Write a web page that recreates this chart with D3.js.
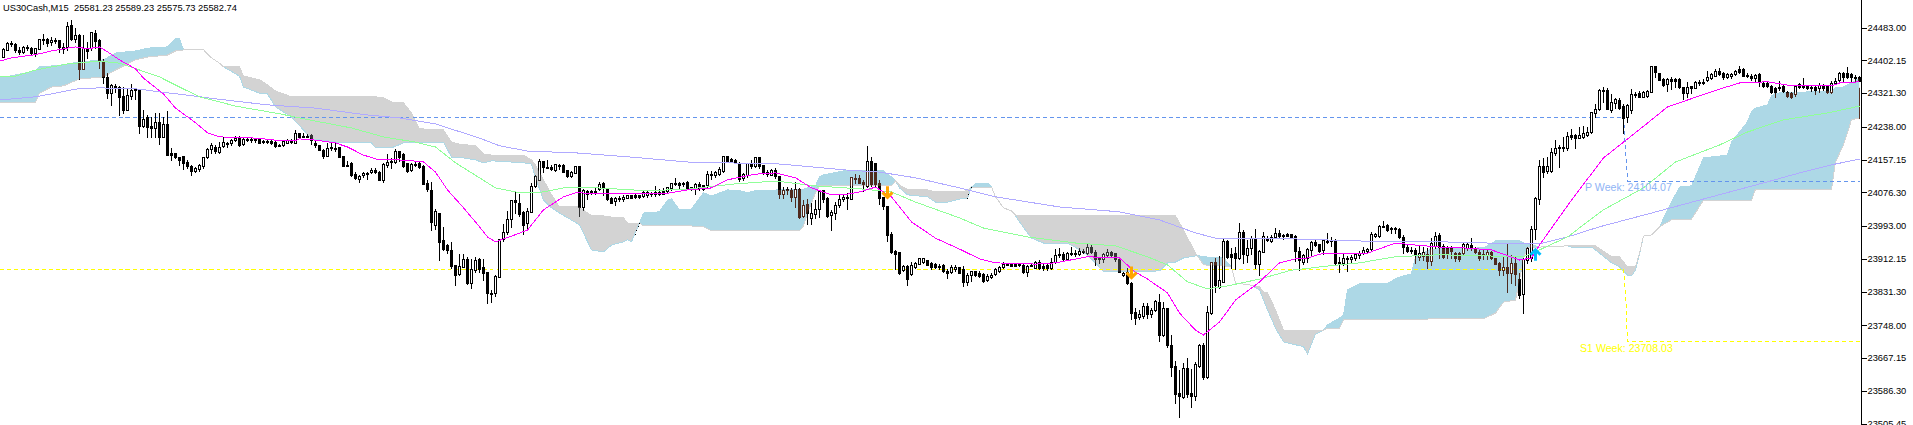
<!DOCTYPE html>
<html><head><meta charset="utf-8">
<script src="https://cdnjs.cloudflare.com/ajax/libs/d3/7.8.5/d3.min.js"></script>
<style>html,body{margin:0;padding:0;background:#fff;overflow:hidden}svg{display:block}text{font-family:"Liberation Sans",Arial,sans-serif}</style>
</head><body><svg id="c" width="1913" height="425"></svg>
<script>
const symbolName="US30Cash,M15";
const quote="25581.23 25589.23 25575.73 25582.74";
const priceTicks=[24483,24402.15,24321.3,24238,24157.15,24076.3,23993,23912.15,23831.3,23748,23667.15,23586.3,23505.45];
const opens=[24410,24428,24445,24442,24428,24423,24435,24432,24420,24430,
24452,24455,24447,24452,24452,24435,24435,24489,24455,24465,
24381,24430,24432,24470,24452,24398,24361,24321,24339,24336,
24314,24279,24314,24331,24329,24240,24262,24240,24235,24250,
24213,24245,24174,24174,24164,24166,24151,24141,24129,24134,
24141,24164,24183,24188,24176,24190,24198,24198,24205,24210,
24195,24208,24208,24208,24208,24203,24203,24203,24200,24193,
24193,24198,24203,24198,24223,24215,24215,24218,24198,24193,
24181,24166,24188,24186,24188,24166,24144,24149,24121,24109,
24119,24124,24126,24131,24126,24107,24144,24154,24151,24178,
24171,24149,24131,24146,24149,24141,24099,24082,23996,24025,
23959,23946,23934,23897,23875,23892,23912,23852,23884,23912,
23892,23880,23828,23828,23867,23961,23978,24010,24057,24050,
24028,24000,24028,24092,24107,24154,24139,24139,24131,24144,
24144,24131,24117,24124,24141,24040,24080,24080,24080,24084,
24099,24084,24062,24055,24062,24060,24062,24070,24070,24070,
24067,24070,24075,24072,24077,24080,24080,24087,24099,24099,
24099,24102,24089,24084,24097,24094,24094,24121,24119,24121,
24129,24166,24159,24156,24149,24112,24119,24146,24141,24164,
24144,24126,24119,24131,24117,24072,24084,24082,24065,24084,
24018,24047,24013,24023,24035,24082,24062,24020,24025,24045,
24060,24065,24060,24112,24112,24102,24092,24154,24149,24099,
24065,24042,23973,23931,23929,23884,23894,23875,23892,23899,
23904,23909,23902,23899,23894,23897,23882,23880,23887,23892,
23887,23855,23872,23882,23877,23875,23860,23867,23875,23882,
23892,23899,23899,23899,23899,23897,23880,23897,23889,23904,
23894,23897,23889,23904,23924,23924,23912,23926,23926,23924,
23931,23926,23941,23929,23914,23912,23922,23929,23926,23912,
23872,23880,23852,23781,23768,23771,23795,23776,23786,23805,
23724,23791,23699,23647,23581,23571,23643,23581,23573,23647,
23699,23620,23778,23904,23842,23855,23956,23924,23926,23914,
23978,23922,23939,23961,23899,23929,23963,23956,23966,23976,
23971,23973,23973,23968,23931,23904,23914,23934,23954,23949,
23934,23956,23959,23959,23904,23902,23914,23912,23914,23922,
23926,23931,23936,23968,23968,23993,23996,23988,23988,23986,
23966,23941,23934,23934,23917,23919,23924,23907,23944,23971,
23944,23941,23941,23926,23926,23926,23939,23946,23939,23929,
23924,23922,23929,23914,23902,23884,23892,23877,23902,23862,
23825,23909,23914,23986,24060,24141,24129,24129,24173,24188,
24188,24186,24218,24218,24210,24213,24218,24225,24272,24282,
24329,24329,24279,24297,24304,24289,24262,24279,24319,24321,
24312,24314,24324,24388,24371,24356,24344,24356,24356,24356,
24336,24321,24339,24334,24349,24349,24354,24358,24363,24376,
24371,24361,24363,24368,24381,24381,24366,24363,24358,24368,
24346,24346,24339,24334,24336,24339,24324,24321,24319,24344,
24339,24339,24336,24336,24334,24341,24339,24324,24346,24354,
24371,24371,24368,24361,24361];
const highs=[24432,24447,24450,24445,24435,24437,24440,24435,24432,24455,
24467,24457,24460,24457,24452,24445,24497,24502,24482,24467,
24465,24447,24472,24477,24455,24405,24371,24344,24344,24339,
24336,24334,24344,24334,24331,24279,24267,24262,24272,24272,
24262,24277,24186,24174,24164,24166,24156,24144,24139,24146,
24164,24186,24198,24193,24200,24213,24200,24208,24215,24215,
24213,24213,24210,24208,24208,24205,24205,24208,24203,24195,
24205,24208,24208,24230,24223,24223,24220,24220,24203,24193,
24183,24198,24198,24198,24188,24166,24154,24151,24126,24119,
24126,24126,24136,24136,24129,24149,24171,24161,24183,24178,
24174,24149,24149,24151,24154,24144,24107,24102,24035,24025,
23991,23949,23954,23897,23924,23924,23917,23912,23917,23914,
23912,23880,23835,23872,23961,23998,24030,24057,24080,24072,
24030,24038,24099,24119,24159,24154,24156,24144,24146,24146,
24146,24131,24129,24141,24141,24084,24082,24082,24087,24102,
24102,24087,24065,24065,24067,24070,24070,24070,24072,24070,
24080,24080,24077,24092,24084,24087,24089,24099,24112,24102,
24102,24104,24089,24099,24102,24094,24129,24129,24129,24139,
24166,24166,24161,24159,24151,24124,24149,24156,24164,24164,
24144,24131,24134,24136,24117,24089,24089,24087,24102,24087,
24057,24060,24050,24057,24082,24082,24065,24033,24052,24070,
24070,24075,24114,24121,24119,24107,24191,24164,24149,24107,
24065,24042,23978,23934,23929,23897,23897,23904,23904,23914,
23914,23909,23904,23902,23899,23899,23887,23897,23897,23892,
23894,23877,23882,23882,23882,23877,23875,23877,23889,23894,
23904,23899,23899,23899,23902,23899,23897,23902,23907,23909,
23902,23902,23914,23936,23939,23929,23929,23941,23934,23939,
23936,23949,23946,23934,23917,23926,23936,23931,23926,23914,
23880,23889,23855,23791,23786,23803,23803,23791,23810,23825,
23805,23791,23724,23660,23638,23655,23667,23640,23657,23702,
23704,23795,23904,23914,23919,23961,23959,23939,23941,24001,
23983,23959,23968,23986,23934,23978,23968,23971,23988,23983,
23973,23976,23973,23971,23941,23924,23939,23956,23961,23949,
23961,23976,23966,23961,23917,23924,23919,23922,23926,23931,
23941,23939,23978,23976,23996,24006,23998,23991,23991,23988,
23971,23946,23941,23939,23946,23941,23939,23963,23978,23976,
23949,23944,23944,23929,23929,23951,23954,23963,23941,23934,
23934,23934,23931,23914,23904,23917,23949,23922,23917,23877,
23914,23941,23993,24065,24156,24161,24164,24186,24205,24193,
24213,24225,24232,24220,24237,24240,24237,24274,24294,24331,
24336,24334,24319,24309,24309,24294,24294,24331,24324,24326,
24326,24329,24388,24388,24371,24358,24358,24361,24358,24358,
24336,24349,24339,24351,24354,24356,24376,24371,24381,24383,
24373,24371,24371,24378,24388,24383,24371,24368,24368,24371,
24349,24349,24341,24336,24351,24344,24326,24324,24341,24346,
24358,24341,24341,24339,24346,24344,24341,24351,24358,24373,
24373,24386,24371,24366,24363];
const lows=[24410,24428,24437,24423,24418,24420,24428,24415,24413,24430,
24442,24437,24440,24445,24423,24420,24428,24452,24447,24356,
24381,24408,24428,24432,24383,24346,24309,24292,24324,24267,
24272,24279,24307,24307,24223,24237,24213,24213,24213,24195,
24213,24168,24156,24161,24144,24134,24136,24119,24126,24129,
24136,24161,24173,24173,24173,24188,24188,24193,24203,24191,
24193,24203,24200,24200,24198,24198,24198,24195,24188,24191,
24191,24198,24198,24198,24213,24213,24213,24195,24188,24181,
24161,24166,24181,24178,24164,24141,24141,24117,24109,24102,
24114,24109,24124,24124,24107,24102,24139,24136,24149,24154,
24139,24126,24129,24141,24136,24097,24080,23983,23986,23909,
23934,23926,23889,23847,23872,23892,23850,23840,23880,23880,
23860,23803,23805,23820,23867,23956,23973,23991,24025,24018,
23973,23983,24028,24089,24107,24126,24136,24131,24129,24134,
24126,24114,24114,24124,24018,24033,24060,24072,24072,24082,
24070,24057,24050,24045,24055,24055,24062,24065,24062,24062,
24065,24065,24067,24067,24070,24072,24077,24082,24094,24084,
24092,24084,24082,24072,24082,24082,24089,24109,24114,24119,
24126,24151,24151,24149,24104,24107,24114,24136,24139,24136,
24121,24117,24119,24112,24062,24062,24072,24055,24040,24013,
24015,23998,23998,24013,24015,24052,24015,23983,24010,24040,
24055,24035,24060,24099,24099,24080,24089,24092,24089,24047,
24035,23956,23926,23887,23875,23882,23847,23872,23889,23899,
23902,23897,23887,23889,23887,23880,23865,23877,23882,23877,
23845,23847,23857,23870,23867,23855,23857,23865,23872,23880,
23889,23897,23894,23894,23894,23877,23870,23894,23889,23887,
23884,23884,23887,23902,23917,23909,23909,23922,23919,23922,
23926,23924,23926,23897,23902,23904,23919,23919,23907,23880,
23870,23850,23763,23751,23763,23766,23766,23768,23783,23709,
23722,23695,23623,23556,23522,23569,23571,23546,23564,23645,
23615,23618,23776,23830,23840,23855,23914,23889,23887,23912,
23902,23904,23924,23889,23872,23929,23956,23954,23963,23966,
23961,23968,23966,23907,23884,23899,23904,23919,23944,23929,
23924,23951,23944,23897,23880,23897,23882,23904,23909,23914,
23924,23926,23934,23966,23966,23991,23981,23976,23976,23963,
23926,23929,23926,23902,23909,23909,23889,23897,23939,23914,
23914,23914,23914,23907,23907,23924,23934,23934,23926,23909,
23912,23912,23912,23899,23872,23872,23830,23852,23847,23815,
23778,23902,23907,23961,24047,24114,24124,24126,24168,24139,
24178,24181,24208,24186,24210,24210,24215,24223,24262,24279,
24299,24282,24274,24284,24282,24223,24250,24272,24312,24312,
24312,24312,24324,24361,24354,24339,24326,24331,24336,24334,
24307,24312,24321,24334,24341,24344,24351,24356,24363,24366,
24356,24358,24358,24366,24371,24363,24361,24354,24349,24339,
24336,24336,24321,24312,24329,24324,24312,24309,24314,24334,
24334,24331,24326,24319,24324,24329,24321,24321,24344,24349,
24349,24358,24349,24349,24351];
const closes=[24430,24445,24442,24428,24423,24435,24432,24420,24432,24455,
24455,24445,24452,24450,24435,24430,24487,24455,24465,24381,
24432,24425,24472,24450,24403,24361,24321,24341,24334,24312,
24279,24316,24329,24329,24240,24257,24237,24235,24250,24213,
24245,24168,24168,24164,24156,24149,24141,24129,24136,24144,
24164,24183,24193,24178,24188,24200,24195,24205,24210,24193,
24208,24205,24205,24205,24198,24200,24200,24198,24190,24190,
24203,24205,24200,24223,24213,24213,24213,24205,24193,24181,
24166,24186,24186,24183,24164,24141,24141,24119,24112,24117,
24124,24121,24131,24126,24107,24146,24151,24151,24178,24164,
24141,24129,24146,24144,24139,24097,24084,24003,24030,23954,
23936,23934,23894,23872,23894,23912,23852,23887,23909,23887,
23877,23828,23825,23870,23961,23978,24010,24057,24052,24023,
23996,24030,24092,24117,24154,24139,24136,24134,24146,24141,
24126,24117,24126,24141,24040,24082,24072,24077,24077,24097,
24087,24060,24050,24062,24060,24065,24070,24062,24065,24065,
24077,24077,24072,24077,24072,24072,24089,24099,24097,24094,
24097,24087,24084,24097,24087,24084,24121,24119,24126,24134,
24166,24154,24154,24149,24109,24121,24149,24141,24164,24141,
24126,24121,24131,24117,24072,24082,24082,24065,24084,24015,
24045,24025,24025,24035,24080,24060,24018,24028,24045,24060,
24065,24062,24114,24109,24099,24097,24154,24097,24097,24062,
24042,23971,23929,23924,23877,23894,23862,23897,23902,23914,
23914,23897,23892,23892,23892,23882,23877,23892,23892,23877,
23855,23872,23882,23872,23870,23857,23870,23872,23887,23892,
23899,23897,23894,23894,23897,23880,23894,23894,23904,23889,
23889,23889,23904,23922,23922,23912,23926,23924,23924,23931,
23929,23941,23929,23912,23912,23924,23929,23922,23912,23880,
23877,23852,23778,23766,23776,23795,23776,23786,23807,23724,
23791,23699,23645,23578,23573,23643,23578,23573,23652,23699,
23620,23781,23904,23847,23860,23956,23917,23917,23914,23978,
23924,23939,23963,23899,23931,23968,23959,23966,23976,23968,
23968,23968,23966,23931,23909,23922,23936,23954,23946,23931,
23959,23954,23956,23902,23899,23914,23912,23917,23924,23926,
23934,23936,23973,23973,23993,23991,23983,23986,23986,23966,
23941,23931,23931,23922,23926,23929,23907,23951,23968,23941,
23917,23924,23931,23914,23912,23949,23949,23939,23929,23914,
23922,23929,23914,23899,23884,23892,23877,23902,23875,23823,
23912,23939,23986,24062,24141,24126,24141,24176,24186,24186,
24186,24215,24213,24210,24218,24223,24225,24274,24282,24329,
24326,24282,24299,24307,24284,24260,24292,24319,24316,24312,
24324,24326,24388,24373,24354,24341,24356,24351,24351,24336,
24321,24336,24334,24349,24346,24346,24361,24368,24376,24368,
24361,24368,24368,24376,24373,24363,24363,24358,24366,24349,
24339,24339,24324,24324,24334,24326,24314,24312,24339,24336,
24336,24334,24334,24329,24341,24334,24324,24346,24351,24371,
24361,24361,24361,24358,24351];
const tailHigh=24334, tailLow=24257;

const cloudBars=[-1,8,9,12,15,19,25,28,33,36,41,43,44,45,50,52,54,55,59,60,64,66,68,72,75,77,85,92,93,95,97,100,102,104,110,112,114,118,120,122,130,132,133,135,137,139,144,147,150,152,155,156,157,158,159,160,164,166,167,169,172,175,177,181,184,186,188,199,200,201,203,204,205,210,220,222,223,224,226,231,233,236,240,241,242,243,246,247,248,250,252,253,254,257,260,266,270,273,275,289,291,293,295,298,299,300,305,307,308,312,314,315,316,318,320,325,326,328,330,331,334,335,336,339,343,346,349,352,353,357,370,373,375,378,379,380,381,384,391,392,397,398,402,404,406,407,408,409,410,412,414,417,419,422,425,431,432,436,437,438,441,442,443,457,458,460,462,464];
const spanA=[24358,24376,24386,24388,24391,24398,24403,24420,24425,24432,24435,24455,24455,24428,24428,24408,24395,24386,24363,24336,24321,24319,24287,24262,24230,24208,24198,24198,24186,24186,24186,24198,24198,24200,24200,24163,24163,24156,24149,24154,24149,24146,24112,24057,24038,24025,23996,23934,23929,23946,23954,23959,23954,23978,24000,24025,24028,24057,24060,24033,24035,24075,24067,24082,24080,24075,24080,24084,24084,24087,24092,24114,24119,24129,24129,24114,24104,24087,24070,24065,24052,24052,24062,24062,24089,24097,24099,24089,24065,24038,24030,24018,24003,23963,23951,23951,23929,23902,23880,23882,23902,23904,23914,23919,23919,23917,23914,23892,23852,23847,23835,23810,23786,23741,23707,23695,23677,23726,23736,23749,23766,23773,23835,23850,23850,23852,23867,23875,23917,23936,23939,23956,23956,23956,23956,23951,23949,23941,23944,23941,23941,23934,23902,23892,23872,23870,23884,23924,23968,23971,23991,24052,24089,24092,24161,24168,24200,24250,24275,24284,24292,24314,24321,24326,24334,24336,24346,24358];
const spanB=[24299,24299,24321,24336,24339,24356,24361,24378,24403,24410,24415,24425,24425,24428,24428,24408,24395,24386,24386,24363,24354,24341,24326,24312,24312,24312,24312,24312,24312,24309,24299,24297,24272,24233,24230,24200,24195,24191,24171,24168,24168,24156,24144,24107,24070,24040,24040,24018,24018,24015,24013,24000,24000,24000,24000,23993,23993,23993,23993,23993,23993,23991,23981,23981,23981,23981,23981,23981,23993,24025,24075,24092,24092,24092,24092,24092,24104,24094,24084,24082,24077,24077,24077,24082,24089,24087,24087,24089,24065,24038,24030,24020,24020,24020,24020,24018,24018,24018,24018,24018,24018,24018,23983,23926,23912,23897,23894,23892,23852,23847,23843,23830,23828,23786,23736,23736,23736,23736,23736,23741,23741,23761,23761,23761,23761,23761,23761,23761,23761,23764,23764,23778,23805,23810,23860,23914,23939,23941,23944,23944,23944,23944,23917,23917,23892,23892,23892,23926,23968,23971,23991,24008,24010,24010,24057,24057,24057,24057,24057,24084,24084,24084,24084,24084,24151,24193,24255,24260];
const crossBars=[[158,159],[241,242]];
const crossPrices=[[23971,24001],[24060,24090]];

const fastBars=[-1,2,8,12,16,18,20,22,24,26,29,33,35,40,43,48,51,54,63,68,73,74,78,83,86,90,94,99,102,105,108,111,115,119,121,123,127,131,135,140,143,153,165,171,177,181,188,193,198,202,207,210,214,218,222,227,233,239,244,248,258,263,271,279,283,286,291,294,298,300,304,308,313,314,319,323,326,330,337,341,348,353,359,365,372,379,382,384,392,400,405,411,416,421,429,434,441,447,457,459,464];
const fastMA=[24400,24408,24416,24425,24432,24435,24432,24432,24435,24423,24403,24381,24358,24319,24284,24248,24223,24213,24210,24205,24203,24208,24205,24198,24188,24168,24156,24156,24154,24151,24126,24082,24038,23991,23966,23954,23968,23983,24033,24065,24075,24072,24072,24082,24087,24107,24121,24124,24112,24087,24070,24070,24077,24089,24065,24003,23963,23936,23912,23902,23899,23902,23917,23914,23879,23862,23828,23778,23736,23724,23756,23810,23847,23855,23902,23912,23914,23926,23924,23926,23951,23946,23941,23939,23934,23909,23914,23946,24057,24161,24200,24247,24287,24304,24331,24346,24349,24339,24339,24346,24349];
const midBars=[-1,3,8,16,24,29,34,39,44,49,58,69,78,87,95,103,108,113,119,123,129,135,140,145,161,171,183,193,203,215,222,228,239,245,256,268,278,286,291,296,301,306,314,322,331,339,348,359,380,384,391,400,410,418,429,436,445,456,464];
const midMA=[24361,24363,24378,24393,24400,24395,24378,24361,24336,24312,24289,24270,24252,24235,24213,24200,24188,24149,24112,24087,24075,24077,24087,24089,24080,24084,24097,24104,24092,24084,24077,24052,24013,23988,23966,23951,23944,23917,23897,23855,23838,23845,23862,23884,23894,23902,23917,23922,23917,23934,23966,24033,24087,24151,24193,24225,24255,24272,24289];
const slowBars=[-1,8,13,18,24,34,39,46,53,66,78,91,99,108,119,124,131,144,157,171,194,211,219,228,239,248,264,279,289,298,303,323,339,359,371,384,391,399,412,424,441,449,457,464];
const slowMA=[24304,24312,24321,24331,24334,24331,24324,24316,24307,24292,24284,24267,24260,24245,24210,24191,24178,24173,24163,24151,24146,24131,24126,24112,24087,24065,24040,24028,24008,23976,23963,23961,23956,23954,23951,23949,23966,23991,24025,24057,24102,24124,24144,24158];

const pivotBars=[-1,405,405.6,406,464];
const pivotP=[24261,24261,24168,24104.07,24104.07];
const pivotS1=[23886,23886,23810,23708.03,23708.03];
const pivotLabels=["P Week: 24104.07","S1 Week: 23708.03"];
const sellBars=[221,282], sellPrices=[24076,23878];
const buyBars=[383], buyPrices=[23922];

const svg=d3.select("#c");
const x=d3.scaleLinear().domain([0,464]).range([3.5,1859.5]);
const y=d3.scaleLinear().domain([23505.45,24483]).range([423.5,27.5]);
const BLUE="#ADD8E6",GREY="#D3D3D3";
const defs=svg.append("defs");
const cloudIdx=d3.range(cloudBars.length);
const cloudArea=d3.area().x(i=>x(cloudBars[i])).y0(i=>y(spanA[i])).y1(i=>y(spanB[i]));
const aboveB=d3.area().x(i=>x(cloudBars[i])).y0(0).y1(i=>y(spanB[i]));
const belowB=d3.area().x(i=>x(cloudBars[i])).y0(425).y1(i=>y(spanB[i]));
defs.append("clipPath").attr("id","above").append("path").attr("d",aboveB(cloudIdx));
defs.append("clipPath").attr("id","below").append("path").attr("d",belowB(cloudIdx));
defs.append("clipPath").attr("id","blueClip").append("path").attr("d",cloudArea(cloudIdx)).attr("clip-path","url(#above)");
defs.append("clipPath").attr("id","greyClip").append("path").attr("d",cloudArea(cloudIdx)).attr("clip-path","url(#below)");

svg.append("path").attr("d",cloudArea(cloudIdx)).attr("fill",BLUE).attr("clip-path","url(#above)");
svg.append("path").attr("d",cloudArea(cloudIdx)).attr("fill",GREY).attr("clip-path","url(#below)");
const plain=(bars,vals)=>d3.line().x(i=>x(bars[i])).y(i=>y(vals[i]))(d3.range(bars.length));
const stroke=(d,c,w,extra)=>{const p=svg.append("path").attr("d",d).attr("fill","none").attr("stroke",c).attr("stroke-width",w).attr("shape-rendering","crispEdges");if(extra)p.attr("stroke-dasharray",extra);return p;};
stroke(plain(cloudBars,spanA),BLUE,1);
stroke(plain(cloudBars,spanB),GREY,1);
crossBars.forEach((b,k)=>stroke(plain(b,crossPrices[k]),"#000",1,"1 3"));

stroke(plain(pivotBars,pivotP),"#6495ED",1,"4 3");
stroke(plain(pivotBars,pivotS1),"#FFFF00",1,"4 3");

function drawCandles(parent,ink,withPaper){
  const g=parent.append("g").attr("shape-rendering","crispEdges");
  const idx=d3.range(opens.length);
  const tx=i=>Math.floor(x(i));
  g.selectAll("rect.w").data(idx).join("rect").attr("class","w")
    .attr("x",tx).attr("width",1)
    .attr("y",i=>Math.round(y(highs[i])))
    .attr("height",i=>Math.max(1,Math.round(y(lows[i]))-Math.round(y(highs[i]))+1))
    .attr("fill",ink);
  const top=i=>Math.round(y(Math.max(opens[i],closes[i])));
  const bot=i=>Math.round(y(Math.min(opens[i],closes[i])));
  g.selectAll("rect.b").data(idx).join("rect").attr("class","b")
    .attr("x",i=>tx(i)-1).attr("width",3)
    .attr("y",top).attr("height",i=>Math.max(1,bot(i)-top(i)+1))
    .attr("fill",ink);
  if(withPaper){
    const up=idx.filter(i=>closes[i]>opens[i]&&bot(i)-top(i)>=2);
    g.selectAll("rect.p").data(up).join("rect").attr("class","p")
      .attr("x",tx).attr("width",1)
      .attr("y",i=>top(i)+1).attr("height",i=>bot(i)-top(i)-1)
      .attr("fill","#fff");
  }
  return g;
}
drawCandles(svg,"#000",true);
const brown=svg.append("g").attr("clip-path","url(#blueClip)");
drawCandles(brown,"#4F2A1E",true);
const slate=svg.append("g").attr("clip-path","url(#greyClip)");
drawCandles(slate,"#333",true);
svg.append("rect").attr("x",Math.floor(x(464))).attr("width",1)
  .attr("y",y(tailHigh)).attr("height",y(tailLow)-y(tailHigh)).attr("fill","#5A3020");

stroke(plain(slowBars,slowMA),"#B0AAFF",1);
stroke(plain(midBars,midMA),"#90FF98",1);
stroke(plain(fastBars,fastMA),"#FF00FF",1);

const arrow="M0,-6V5M-5,0L0,5L5,0";
sellBars.forEach((b,k)=>svg.append("path").attr("d",arrow).attr("fill","none").attr("stroke","#FFA500").attr("stroke-width",3)
  .attr("transform",`translate(${Math.floor(x(b))+.5},${y(sellPrices[k])})`));
buyBars.forEach((b,k)=>svg.append("path").attr("d",arrow).attr("fill","none").attr("stroke","#00BFFF").attr("stroke-width",3)
  .attr("transform",`translate(${Math.floor(x(b))+.5},${y(buyPrices[k])}) scale(1,-1)`));

svg.append("text").attr("x",1585).attr("y",y(24104.07)+10).attr("font-size",10.6).attr("fill","#8FB4F5").text(pivotLabels[0]);
svg.append("text").attr("x",1580).attr("y",y(23708.03)+10.5).attr("font-size",10.6).attr("fill","#FFFF00").text(pivotLabels[1]);

svg.append("text").attr("x",3).attr("y",11).attr("font-size",9.3).attr("fill","#000").text(symbolName);
svg.append("text").attr("x",74).attr("y",11).attr("font-size",9.3).attr("fill","#000").text(quote);

svg.append("rect").attr("x",1861).attr("y",0).attr("width",1).attr("height",425).attr("fill","#000");
const axis=d3.axisRight(y).tickValues(priceTicks).tickSize(5).tickPadding(1).tickFormat(d3.format(".2f"));
const ag=svg.append("g").attr("transform","translate(1861.5,0)").call(axis);
ag.select(".domain").remove();
ag.selectAll("text").attr("font-size",9.3).attr("font-family","Liberation Sans").attr("fill","#000");
ag.selectAll("line").attr("stroke","#000").attr("shape-rendering","crispEdges");
</script></body></html>
